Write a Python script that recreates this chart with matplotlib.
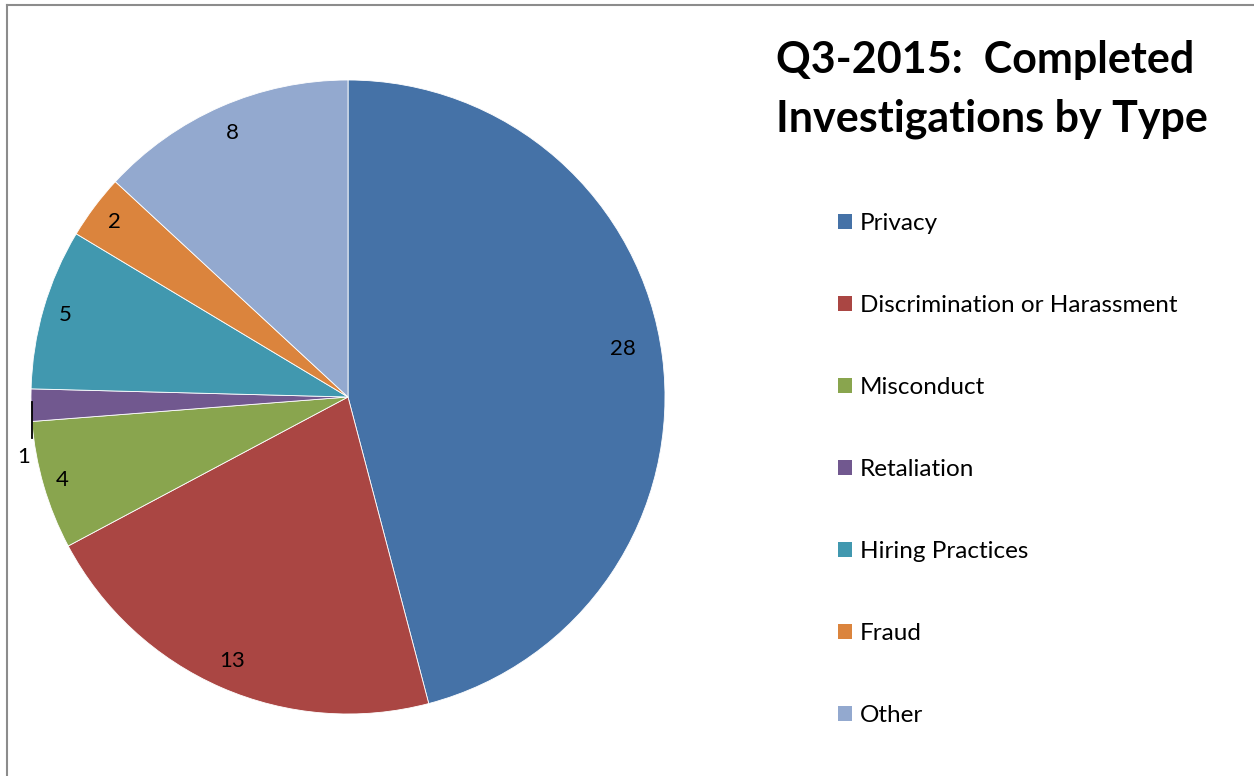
import numpy as np
import matplotlib
matplotlib.use("Agg")
import matplotlib.pyplot as plt
from matplotlib.lines import Line2D
from matplotlib.patches import Patch

categories = ["Privacy", "Discrimination or Harassment", "Misconduct",
              "Retaliation", "Hiring Practices", "Fraud", "Other"]
values = [28, 13, 4, 1, 5, 2, 8]
colors = ["#4572A7", "#AA4643", "#89A54E", "#71588F", "#4198AF", "#DB843D", "#93A9CF"]
title = "Q3-2015:  Completed\nInvestigations by Type"

plt.rcParams['font.family'] = ['Lato', 'DejaVu Sans']

W, H = 1254, 776
fig = plt.figure(figsize=(W / 100, H / 100), dpi=100)
fig.patch.set_facecolor("white")

cx, cy, R = 348, 397, 317
ax = fig.add_axes([(cx - R) / W, (H - cy - R) / H, 2 * R / W, 2 * R / H])
wedges, _ = ax.pie(values, colors=colors, startangle=90, counterclock=False,
                   radius=1.0, wedgeprops=dict(edgecolor="white", linewidth=0.6))
ax.set_xlim(-1, 1)
ax.set_ylim(-1, 1)
ax.set_aspect("equal")
ax.set_clip_on(False)
ax.axis("off")

# data labels
label_dist = [0.88, 0.91, 0.94, 1.04, 0.93, 0.92, 0.91]
angle_shift = [2.6, 0, 0, 9.0, 0, 0, 0]
for w, v, d, s in zip(wedges, values, label_dist, angle_shift):
    mid = np.deg2rad((w.theta1 + w.theta2) / 2 + s)
    x, y = d * np.cos(mid), d * np.sin(mid)
    ax.text(x, y, str(v), ha="center", va="center", fontsize=16, color="black")
    if d > 1:
        m0 = np.deg2rad((w.theta1 + w.theta2) / 2)
        ex, ey = np.cos(m0) + 0.003, np.sin(m0)
        ax.plot([ex, ex], [ey + 0.01, y + 0.06], color="black", lw=1.3, clip_on=False)

# title
fig.text(776 / W, 1 - 40 / H, title, ha="left", va="top", fontsize=31,
         fontweight="bold", color="black", linespacing=1.56)

# legend
handles = [Patch(facecolor=c, edgecolor="none") for c in colors]
leg = fig.legend(handles, categories, loc="upper left",
                 bbox_to_anchor=(838 / W, 1 - 213 / H), frameon=False,
                 fontsize=17.5, handlelength=0.58, handleheight=0.58,
                 handletextpad=0.32, labelspacing=2.51, borderaxespad=0,
                 borderpad=0)

# outer border (top and left visible)
gray = "#8c8c8c"
fig.add_artist(Line2D([7 / W, 1], [1 - 5 / H, 1 - 5 / H], color=gray, lw=1.5,
                      transform=fig.transFigure))
fig.add_artist(Line2D([7 / W, 7 / W], [0, 1 - 5 / H], color=gray, lw=1.5,
                      transform=fig.transFigure))

fig.savefig("out.png", dpi=100)
